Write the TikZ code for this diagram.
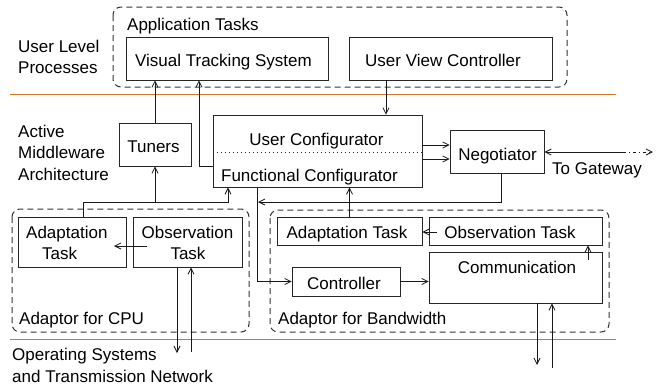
\documentclass[tikz,border=0pt]{standalone}
\usepackage{fontspec}
\setmainfont{Liberation Sans}
\usetikzlibrary{arrows.meta}
\definecolor{layerline}{RGB}{208,118,36}
\tikzset{
  lbl/.style={font=\fontsize{17}{20}\selectfont, inner sep=0pt},
  box/.style={draw=black!85, line width=0.9pt, inner sep=0pt},
  group/.style={draw=black!80, line width=1pt, dash pattern=on 6pt off 4pt, rounded corners=8pt},
  conn/.style={draw=black!90, line width=0.9pt},
  arr/.style={conn, -{Straight Barb[length=6pt,width=6pt,line width=0.8pt]}},
  layer/.style={draw=layerline, line width=1.2pt}
}
\begin{document}
\begin{tikzpicture}[x=1pt,y=-1pt]
\useasboundingbox (0,0) rectangle (658,389);

% layer separators
\draw[layer] (10,94.5) -- (616,94.5);
\draw[layer] (10,339.5) -- (616,339.5);

% layer names
\node[lbl, anchor=base west] (ulp1) at (18,52) {User Level};
\node[lbl, anchor=base west] (ulp2) at (18,73) {Processes};
\node[lbl, anchor=base west] (ama1) at (18,137) {Active};
\node[lbl, anchor=base west] (ama2) at (18,158) {Middleware};
\node[lbl, anchor=base west] (ama3) at (18,180) {Architecture};
\node[lbl, anchor=base west] (os1) at (12,360) {Operating Systems};
\node[lbl, anchor=base west] (os2) at (12,382) {and Transmission Network};

% groups
\draw[group] (113,7) rectangle (567,87);
\node[lbl, anchor=base west] (apptitle) at (127,30) {Application Tasks};
\draw[group] (12,209) rectangle (249,332);
\node[lbl, anchor=base west] (cputitle) at (19,324) {Adaptor for CPU};
\draw[group] (270,210) rectangle (609,332);
\node[lbl, anchor=base west] (bwtitle) at (278,324) {Adaptor for Bandwidth};

% application tasks
\node[box, minimum width=202pt, minimum height=43pt] (vts) at (227,58.5) {};
\node[lbl, anchor=base] (vtst) at (223.5,66) {Visual Tracking System};
\node[box, minimum width=203pt, minimum height=43pt] (uvc) at (450.5,58.5) {};
\node[lbl, anchor=base] (uvct) at (443,66) {User View Controller};

% middleware
\node[box, minimum width=72pt, minimum height=43pt] (tuners) at (155,144.5) {};
\node[lbl, anchor=base] (tunerst) at (153.5,152) {Tuners};
\node[box, minimum width=209pt, minimum height=72pt] (config) at (317.5,151) {};
\draw[black!85, line width=0.9pt, dash pattern=on 1pt off 3pt] (config.west |- 0,152) -- (config.east |- 0,152);
\node[lbl, anchor=base] (userconf) at (316.5,145) {User Configurator};
\node[lbl, anchor=base] (funcconf) at (309.5,181) {Functional Configurator};
\node[box, minimum width=94pt, minimum height=43pt] (neg) at (497,151.5) {};
\node[lbl, anchor=base] (negt) at (497.5,160) {Negotiator};
\node[lbl, anchor=base west] (gwt) at (552,174) {To Gateway};
\coordinate (gw) at (653,152);
\coordinate (gwmid) at (623,152);

% CPU adaptor
\node[box, minimum width=108pt, minimum height=50pt] (cpuadapt) at (72,242) {};
\node[lbl, anchor=base west] (cpuadapt1) at (26,238) {Adaptation};
\node[lbl, anchor=base west] (cpuadapt2) at (42,259) {Task};
\node[box, minimum width=109pt, minimum height=50pt] (cpuobs) at (187.5,242) {};
\node[lbl, anchor=base] (cpuobs1) at (187.5,238) {Observation};
\node[lbl, anchor=base] (cpuobs2) at (188,259) {Task};

% bandwidth adaptor
\node[box, minimum width=145pt, minimum height=28pt] (bwadapt) at (349.5,231) {};
\node[lbl, anchor=base] (bwadaptt) at (347,238) {Adaptation Task};
\node[box, minimum width=173pt, minimum height=28pt] (bwobs) at (515.5,231) {};
\node[lbl, anchor=base] (bwobst) at (510,238) {Observation Task};
\node[box, minimum width=173pt, minimum height=51pt] (comm) at (515.5,277.5) {};
\node[lbl, anchor=base] (commt) at (517,273) {Communication};
\node[box, minimum width=108pt, minimum height=29pt] (ctrl) at (346,281.5) {};
\node[lbl, anchor=base] (ctrlt) at (344,289) {Controller};

% connectors: user level
\draw[arr] (tuners.north) -- (tuners.north |- vts.south);
\draw[arr] (config.west |- 0,166) -| (vts.south -| 199,0);
\draw[arr] (uvc.south -| 386,0) -- (config.north -| 386,0);

% connectors: middleware
\draw[arr] (config.east |- 0,145) -- (neg.west |- 0,145);
\draw[arr] (config.east |- 0,159) -- (neg.west |- 0,159);
\draw[conn, {Straight Barb[length=6pt,width=6pt,line width=0.8pt]}-] (neg.east |- gwmid) -- (gwmid);
\draw[conn, dash pattern=on 3pt off 3pt on 1pt off 3pt, -{Straight Barb[length=6pt,width=6pt,line width=0.8pt]}] (gwmid) -- (gw);
\draw[arr] (neg.south -| 501,0) |- (258,202);
\draw[arr] (config.south -| 257,0) |- (ctrl.west);
\draw[arr] (bwadapt.north) -- (config.south -| bwadapt.north);
\draw[arr] (cpuadapt.north -| 83,0) |- (228,202) -- (config.south -| 228,0);
\draw[arr] (tuners.south |- 0,202) -- (tuners.south);

% connectors: CPU adaptor
\draw[arr] (147,246) -- (114,246);
\draw[arr] (cpuobs.south -| 177,0) -- (177,353);
\draw[arr] (191,352) -- (cpuobs.south -| 191,0);

% connectors: bandwidth adaptor
\draw[arr] (437,232) -- (bwadapt.east |- 0,232);
\draw[arr] (ctrl.east) -- (comm.west |- ctrl.east);
\draw[arr] (588,260) -- (bwobs.south -| 588,0);
\draw[arr] (comm.south -| 537,0) -- (537,365);
\draw[arr] (552,368) -- (comm.south -| 552,0);
\end{tikzpicture}
\end{document}
